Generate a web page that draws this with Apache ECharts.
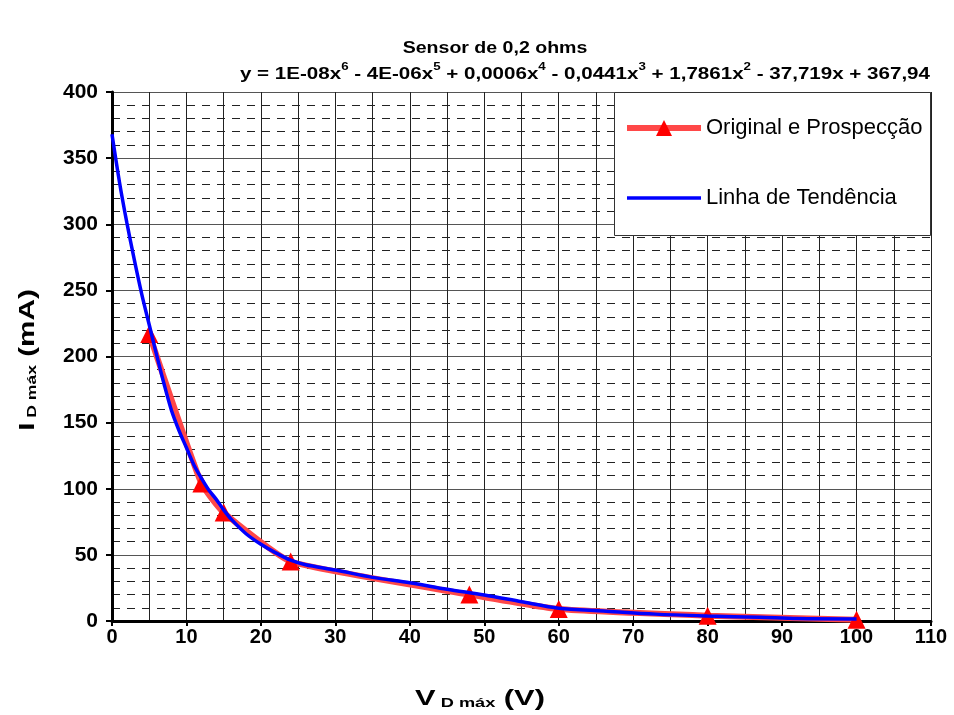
<!DOCTYPE html>
<html>
<head>
<meta charset="utf-8">
<script src="https://cdn.jsdelivr.net/npm/echarts@6/dist/echarts.min.js"></script>
<style>html,body{margin:0;padding:0;background:#fff}#c{width:954px;height:715px}</style>
</head>
<body>
<div id="c"></div>
<script>
// Original e Prospecção (red, markers)
const redX = [5, 12, 15, 24, 48, 60, 80, 100];
const redY = [217, 104, 82, 45, 20, 9, 4, 1];
// Linha de Tendência (blue)
const trendX = [0, 1, 2, 3, 4, 5, 6, 7, 8, 9, 10, 11, 12, 13, 14, 15, 16, 18, 20, 22, 24, 26, 30, 35, 40, 45, 50, 55, 60, 66, 73, 80, 87, 92, 100];
const trendY = [368, 332, 301, 273, 247, 224, 201, 179, 159, 144, 131, 118, 108, 99, 92, 84, 77, 66, 58, 51.5, 46, 42.5, 38.6, 33, 29, 24, 19.7, 14.6, 9.7, 7.6, 5.2, 3.8, 2.8, 1.8, 1.5];
const xTicks = [0, 10, 20, 30, 40, 50, 60, 70, 80, 90, 100, 110];
const yTicks = [0, 50, 100, 150, 200, 250, 300, 350, 400];
const seriesNames = ['Original e Prospecção', 'Linha de Tendência'];
const titleText = 'Sensor de 0,2 ohms';

const FONT = '"Liberation Sans", Arial, sans-serif';
const chart = echarts.init(document.getElementById('c'));

const eqRich = '{b|y = 1E-08x}{s|6}{b| - 4E-06x}{s|5}{b| + 0,0006x}{s|4}{b| - 0,0441x}{s|3}{b| + 1,7861x}{s|2}{b| - 37,719x + 367,94}';
const nameRich = {
  b: { fontSize: 22, fontWeight: 'bold', fontFamily: FONT, lineHeight: 26, verticalAlign: 'bottom' },
  s: { fontSize: 13, fontWeight: 'bold', fontFamily: FONT, lineHeight: 26, verticalAlign: 'bottom' }
};

chart.setOption({
  animation: false,
  backgroundColor: '#fff',
  grid: { left: 112, right: 23, top: 92, bottom: 94, containLabel: false },
  xAxis: {
    type: 'value', min: xTicks[0], max: xTicks[xTicks.length - 1], interval: 10,
    axisLine: { show: true, onZero: false, lineStyle: { color: '#000', width: 3 } },
    axisTick: { show: true, inside: false, length: 5, lineStyle: { color: '#000', width: 2 } },
    axisLabel: { color: '#000', fontSize: 20, fontWeight: 'bold', fontFamily: FONT, margin: 6 },
    splitLine: { show: true, lineStyle: { color: '#222', width: 1 } },
    minorTick: { show: false, splitNumber: 2 },
    minorSplitLine: { show: true, lineStyle: { color: '#222', width: 1 } }
  },
  yAxis: {
    type: 'value', min: yTicks[0], max: yTicks[yTicks.length - 1], interval: 50,
    axisLine: { show: true, onZero: false, lineStyle: { color: '#000', width: 3 } },
    axisTick: { show: true, inside: false, length: 6, lineStyle: { color: '#000', width: 2 } },
    axisLabel: { color: '#000', fontSize: 21, fontWeight: 'bold', fontFamily: FONT, margin: 14 },
    splitLine: { show: true, lineStyle: { color: '#555', width: 1 } },
    minorTick: { show: false, splitNumber: 5 },
    minorSplitLine: { show: true, lineStyle: { color: '#222', width: 1, type: [8, 7] } }
  },
  legend: {
    orient: 'vertical', left: 619, top: 112,
    itemWidth: 74, itemHeight: 20, itemGap: 48,
    textStyle: { color: '#000', fontSize: 22, fontFamily: FONT },
    data: [
      { name: seriesNames[0], lineStyle: { width: 6, color: '#ff4848' } },
      { name: seriesNames[1], itemStyle: { opacity: 0 }, lineStyle: { width: 3.5, color: '#0000ff' } }
    ],
    z: 5
  },
  graphic: [
    { type: 'rect', z: 3, shape: { x: 614.5, y: 92.5, width: 316, height: 143 },
      style: { fill: '#fff', stroke: '#333', lineWidth: 1 } },
    { type: 'text', z: 5, x: 495, y: 48, scaleX: 1.15,
      style: { text: titleText, align: 'center', verticalAlign: 'middle', fill: '#000',
               font: 'bold 17px ' + FONT } },
    { type: 'text', z: 5, x: 930, y: 72, scaleX: 1.21,
      style: { text: eqRich, align: 'right', verticalAlign: 'middle', fill: '#000',
               rich: {
                 b: { fontSize: 17, fontWeight: 'bold', fontFamily: FONT, lineHeight: 22, verticalAlign: 'bottom' },
                 s: { fontSize: 11, fontWeight: 'bold', fontFamily: FONT, lineHeight: 22, verticalAlign: 'top' }
               } } },
    { type: 'text', z: 5, x: 480, y: 697, scaleX: 1.4,
      style: { text: '{b|V}{s| D máx}{b| (V)}', align: 'center', verticalAlign: 'middle', fill: '#000',
               rich: nameRich } },
    { type: 'text', z: 5, x: 26, y: 360, rotation: Math.PI / 2, scaleX: 1.35,
      style: { text: '{b|I}{s| D máx}{b| (mA)}', align: 'center', verticalAlign: 'middle', fill: '#000',
               rich: nameRich } }
  ],
  series: [
    {
      name: seriesNames[0], type: 'line', z: 2,
      data: redX.map((x, i) => [x, redY[i]]),
      smooth: 0.15,
      symbol: 'triangle', symbolSize: 18, showSymbol: true,
      itemStyle: { color: '#ff0000' },
      lineStyle: { color: '#ff4848', width: 6, type: 'solid' }
    },
    {
      name: seriesNames[1], type: 'line', z: 3,
      data: trendX.map((x, i) => [x, trendY[i]]),
      smooth: 0.3, showSymbol: false, symbol: 'none',
      itemStyle: { color: '#0000ff' },
      lineStyle: { color: '#0000ff', width: 3.5 }
    }
  ]
});
</script>
</body>
</html>
